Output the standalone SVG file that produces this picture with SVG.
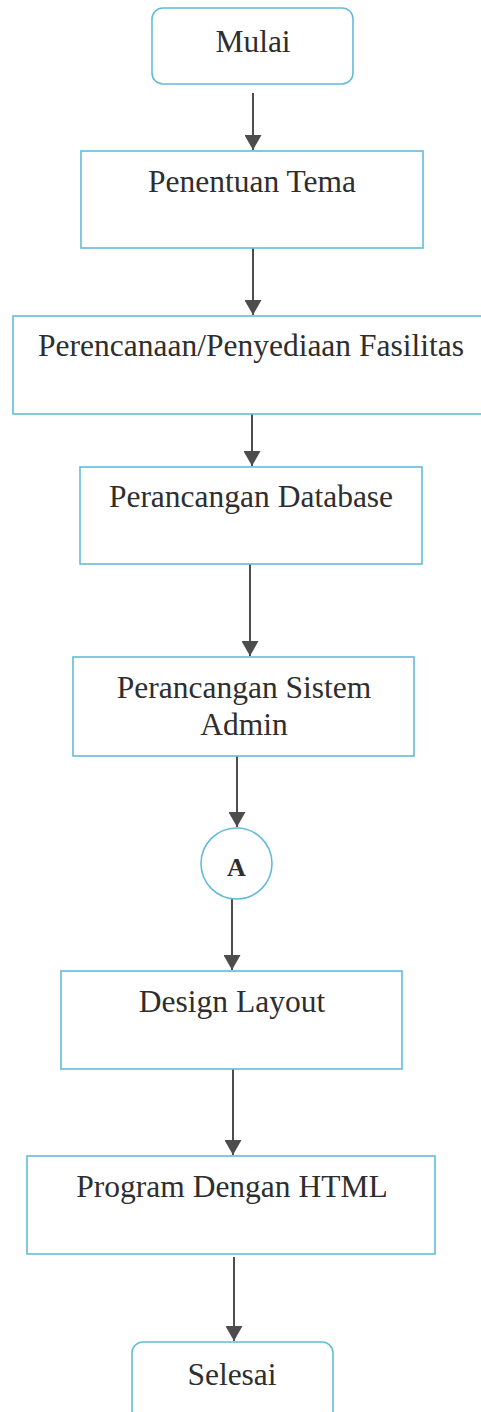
<svg xmlns="http://www.w3.org/2000/svg" width="481" height="1412" viewBox="0 0 481 1412">
  <style>
    .box { fill: #ffffff; stroke: #62bcd8; stroke-width: 1.6; }
    .lbl { font-family: "Liberation Serif", "Times New Roman", serif; font-size: 31.5px; fill: #2e2e2e; text-anchor: middle; }
    .conn { stroke: #4d4d4d; stroke-width: 2; fill: none; marker-end: url(#arrow); }
  </style>
  <defs>
    <marker id="arrow" markerUnits="userSpaceOnUse" markerWidth="15" markerHeight="17" refX="15" refY="8.5" orient="auto">
      <path d="M0,0 L15,8.5 L0,17 Z" fill="#4d4d4d"/>
    </marker>
  </defs>
  <rect width="481" height="1412" fill="#ffffff"/>

  <!-- flow arrows between the steps -->
  <g id="connectors">
    <line class="conn" x1="253" y1="93" x2="253" y2="150"/>
    <line class="conn" x1="253" y1="248" x2="253" y2="315"/>
    <line class="conn" x1="252" y1="414" x2="252" y2="466"/>
    <line class="conn" x1="250" y1="564" x2="250" y2="656"/>
    <line class="conn" x1="237" y1="756" x2="237" y2="827"/>
    <line class="conn" x1="232" y1="899" x2="232" y2="970"/>
    <line class="conn" x1="233" y1="1069" x2="233" y2="1155"/>
    <line class="conn" x1="234" y1="1257" x2="234" y2="1341"/>
  </g>

  <g id="mulai">
    <rect class="box" x="152" y="8" width="201" height="76" rx="11"/>
    <text class="lbl" x="253" y="52">Mulai</text>
  </g>

  <g id="penentuan-tema">
    <rect class="box" x="81" y="151" width="342" height="97"/>
    <text class="lbl" x="252" y="192">Penentuan Tema</text>
  </g>

  <g id="perencanaan-fasilitas">
    <rect class="box" x="13" y="316" width="480" height="98"/>
    <text class="lbl" x="251" y="356">Perencanaan/Penyediaan Fasilitas</text>
  </g>

  <g id="perancangan-database">
    <rect class="box" x="80" y="467" width="342" height="97"/>
    <text class="lbl" x="251" y="507">Perancangan Database</text>
  </g>

  <g id="perancangan-sistem-admin">
    <rect class="box" x="73" y="657" width="341" height="99"/>
    <text class="lbl" x="244" y="698">Perancangan Sistem</text>
    <text class="lbl" x="244" y="735">Admin</text>
  </g>

  <!-- off-page connector -->
  <g id="connector-a">
    <circle class="box" cx="236.5" cy="863.5" r="35.5"/>
    <text class="lbl" x="236.5" y="876" style="font-size:26px;font-weight:bold">A</text>
  </g>

  <g id="design-layout">
    <rect class="box" x="61" y="971" width="341" height="98"/>
    <text class="lbl" x="232" y="1012">Design Layout</text>
  </g>

  <g id="program-html">
    <rect class="box" x="27" y="1156" width="408" height="98"/>
    <text class="lbl" x="232" y="1197">Program Dengan HTML</text>
  </g>

  <g id="selesai">
    <rect class="box" x="132" y="1342" width="201" height="80" rx="11"/>
    <text class="lbl" x="232" y="1385">Selesai</text>
  </g>
</svg>
